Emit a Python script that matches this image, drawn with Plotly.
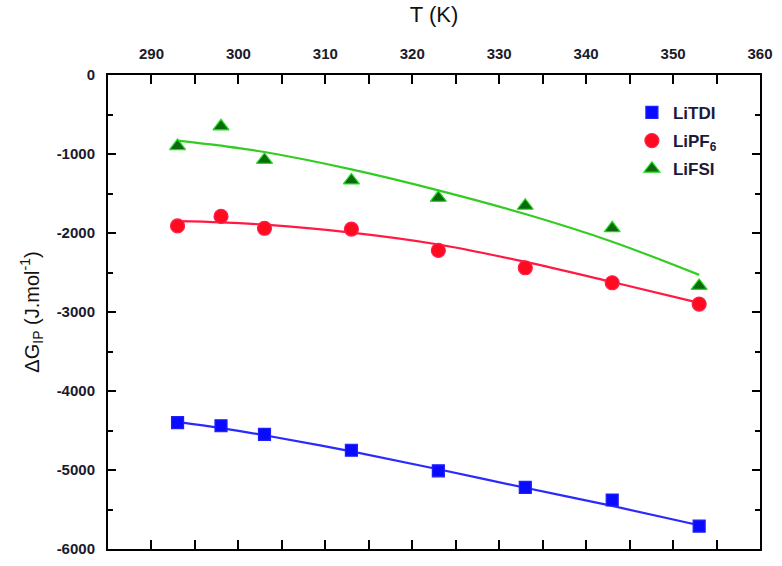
import plotly.graph_objects as go

T = [293, 298, 303, 313, 323, 333, 343, 353]

litdi = [-4400, -4440, -4550, -4750, -5010, -5220, -5380, -5710]
lipf6 = [-1910, -1790, -1940, -1950, -2220, -2440, -2630, -2900]
lifsi = [-900, -650, -1075, -1335, -1555, -1655, -1940, -2670]

litdi_fit = [-4390, -4470, -4560, -4765, -4990, -5225, -5455, -5700]
lipf6_fit = [-1850, -1865, -1895, -1995, -2145, -2365, -2620, -2885]
lifsi_fit = [-830, -895, -975, -1195, -1460, -1760, -2110, -2530]

x_ticks = [290, 300, 310, 320, 330, 340, 350, 360]
x_ticklabels = ["290", "300", "310", "320", "330", "340", "350", "360"]
y_ticks = [0, -1000, -2000, -3000, -4000, -5000, -6000]
y_ticklabels = ["0", "-1000", "-2000", "-3000", "-4000", "-5000", "-6000"]

series = [
    ("LiTDI", litdi, litdi_fit, "square", "#0a0aff", "#2020ff", "#2a2aff", 12),
    ("LiPF<sub>6</sub>", lipf6, lipf6_fit, "circle", "#ff0a1e", "#ff2050", "#ff1a44", 14),
    ("LiFSI", lifsi, lifsi_fit, "triangle-up", "#0b6b0b", "#22dd22", "#33cc22", 14),
]

fig = go.Figure()
for name, vals, fit, sym, fill, edge, lcol, size in series:
    fig.add_trace(go.Scatter(
        x=T, y=fit, mode="lines", line=dict(color=lcol, width=2.2, shape="spline"),
        showlegend=False, hoverinfo="skip"))
for i, (name, vals, fit, sym, fill, edge, lcol, size) in enumerate(series):
    fig.add_trace(go.Scatter(
        x=T, y=vals, mode="markers", name="<b>%s</b>" % name, legendgroup="g%d" % i,
        marker=dict(symbol=sym, size=size, color=fill, line=dict(color=edge, width=1.2))))

axis_font = dict(family="Arial, Liberation Sans, sans-serif", size=15, color="#1a1a2a")

fig.update_layout(
    width=782, height=566,
    margin=dict(l=108, r=17, t=75, b=9),
    paper_bgcolor="white", plot_bgcolor="white",
    font=dict(family="Arial, Liberation Sans, sans-serif", color="#1a1a2a"),
    showlegend=True,
    legend=dict(x=0.802, y=0.958, xanchor="left", yanchor="top",
                font=dict(size=17, color="#1a1a3a"), bgcolor="rgba(0,0,0,0)",
                tracegroupgap=3, itemwidth=32),
    xaxis=dict(
        side="top", range=[285, 360],
        tickvals=x_ticks, ticktext=["<b>%s</b>" % t for t in x_ticklabels],
        title=dict(text="T (K)", font=dict(size=22, color="#111"), standoff=16),
        tickfont=axis_font, ticks="inside", ticklen=9, tickwidth=1.5, tickcolor="black",
        minor=dict(dtick=5, tick0=285, ticks="inside", ticklen=9, tickwidth=1.5, tickcolor="black"),
        showline=True, linecolor="black", linewidth=2, mirror="ticks",
        showgrid=False, zeroline=False, ticklabelstandoff=8),
    yaxis=dict(
        range=[-6000, 0],
        tickvals=y_ticks, ticktext=["<b>%s</b>" % t for t in y_ticklabels],
        title=dict(text="ΔG<sub>IP</sub> (J.mol<sup>-1</sup>)", font=dict(size=20, color="#111"), standoff=12),
        tickfont=axis_font, ticks="inside", ticklen=8, tickwidth=1.5, tickcolor="black",
        minor=dict(dtick=500, ticks="inside", ticklen=5, tickwidth=1.5, tickcolor="black"),
        showline=True, linecolor="black", linewidth=2, mirror="ticks",
        showgrid=False, zeroline=False, ticklabelstandoff=8),
)

fig.write_html("out.html", config={"displayModeBar": False},
               post_script="document.body.style.margin='0';")
